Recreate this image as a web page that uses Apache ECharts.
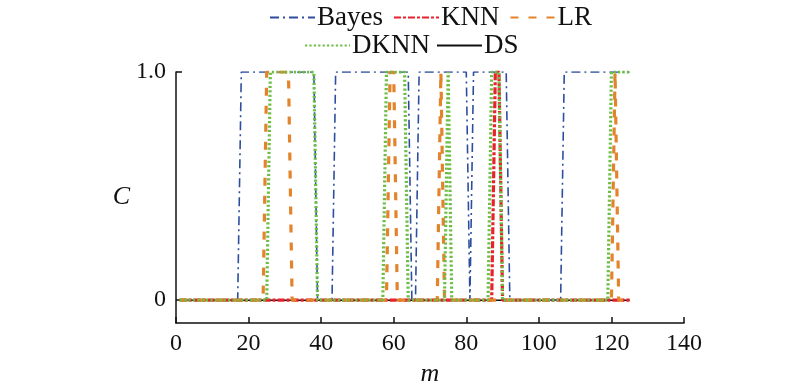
<!DOCTYPE html>
<html><head><meta charset="utf-8">
<script src="https://cdn.jsdelivr.net/npm/echarts@6/dist/echarts.min.js"></script>
<style>html,body{margin:0;padding:0;background:#fff}#c{width:800px;height:387px}</style>
</head><body><div id="c"></div>
<script>
const seriesNames = ['Bayes', 'KNN', 'LR', 'DKNN', 'DS'];
const m = [
  1,2,3,4,5,6,7,8,9,10, 11,12,13,14,15,16,17,18,19,20,
  21,22,23,24,25,26,27,28,29,30, 31,32,33,34,35,36,37,38,39,40,
  41,42,43,44,45,46,47,48,49,50, 51,52,53,54,55,56,57,58,59,60,
  61,62,63,64,65,66,67,68,69,70, 71,72,73,74,75,76,77,78,79,80,
  81,82,83,84,85,86,87,88,89,90, 91,92,93,94,95,96,97,98,99,100,
  101,102,103,104,105,106,107,108,109,110, 111,112,113,114,115,116,117,118,119,120,
  121,122,123,124,125
];
const bayes = [
  0,0,0,0,0,0,0,0,0,0, 0,0,0,0,0,0,0,1,1,1,
  1,1,1,1,1,1,1,1,1,1, 1,1,1,1,1,1,1,1,0,0,
  0,0,0,1,1,1,1,1,1,1, 1,1,1,1,1,1,1,1,1,1,
  1,1,1,1,0,0,1,1,1,1, 1,1,1,1,1,1,1,1,1,1,
  0,1,1,1,1,1,1,1,1,1, 1,0,0,0,0,0,0,0,0,0,
  0,0,0,0,0,0,1,1,1,1, 1,1,1,1,1,1,1,1,1,1,
  1,1,1,1,1
];
const knn = [
  0,0,0,0,0,0,0,0,0,0, 0,0,0,0,0,0,0,0,0,0,
  0,0,0,0,0,0,0,0,0,0, 0,0,0,0,0,0,0,0,0,0,
  0,0,0,0,0,0,0,0,0,0, 0,0,0,0,0,0,0,0,0,0,
  0,0,0,0,0,0,0,0,0,0, 0,0,0,0,0,0,0,0,0,0,
  0,0,0,0,0,0,0,1,1,0, 0,0,0,0,0,0,0,0,0,0,
  0,0,0,0,0,0,0,0,0,0, 0,0,0,0,0,0,0,0,0,0,
  0,0,0,0,0
];
const lr = [
  0,0,0,0,0,0,0,0,0,0, 0,0,0,0,0,0,0,0,0,0,
  0,0,0,0,1,1,1,1,1,1, 1,0,0,0,0,0,0,0,0,0,
  0,0,0,0,0,0,0,0,0,0, 0,0,0,0,0,0,0,0,1,1,
  0,0,0,0,0,0,0,0,0,0, 0,0,1,0,0,0,0,0,0,0,
  0,0,0,0,0,0,0,0,0,0, 0,0,0,0,0,0,0,0,0,0,
  0,0,0,0,0,0,0,0,0,0, 0,0,0,0,0,0,0,0,0,0,
  1,0,0,0,0
];
const dknn = [
  0,0,0,0,0,0,0,0,0,0, 0,0,0,0,0,0,0,0,0,0,
  0,0,0,0,0,1,1,1,1,1, 1,1,1,1,1,1,1,1,0,0,
  0,0,0,0,0,0,0,0,0,0, 0,0,0,0,0,0,0,1,1,1,
  1,1,1,0,0,0,0,0,0,0, 0,0,0,0,1,0,0,0,0,0,
  0,0,0,0,0,0,1,1,1,0, 0,0,0,0,0,0,0,0,0,0,
  0,0,0,0,0,0,0,0,0,0, 0,0,0,0,0,0,0,0,0,1,
  1,1,1,1,1
];
const ds = [
  0,0,0,0,0,0,0,0,0,0, 0,0,0,0,0,0,0,0,0,0,
  0,0,0,0,0,0,0,0,0,0, 0,0,0,0,0,0,0,0,0,0,
  0,0,0,0,0,0,0,0,0,0, 0,0,0,0,0,0,0,0,0,0,
  0,0,0,0,0,0,0,0,0,0, 0,0,0,0,0,0,0,0,0,0,
  0,0,0,0,0,0,0,0,0,0, 0,0,0,0,0,0,0,0,0,0,
  0,0,0,0,0,0,0,0,0,0, 0,0,0,0,0,0,0,0,0,0,
  0,0,0,0,0
];
const xTicks = [0, 20, 40, 60, 80, 100, 120, 140];
const yTicks = [0, 1];

const pair = arr => m.map((x, i) => [x, arr[i]]);
const font = "'Liberation Serif', 'Times New Roman', serif";
const styles = {
  Bayes: {color: '#2D4E9E', width: 1.6, type: [9, 4, 2, 4], z: 3},
  KNN:   {color: '#E8212B', width: 3.2, type: [7, 2, 3, 2], z: 4},
  LR:    {color: '#E3832B', width: 3.2, type: [8, 10], z: 5},
  DKNN:  {color: '#6DBE45', width: 3.2, type: [2.2, 2.2], z: 6},
  DS:    {color: '#111111', width: 1.6, type: 'solid', z: 2}
};
const dataMap = {Bayes: bayes, KNN: knn, LR: lr, DKNN: dknn, DS: ds};

const legendCommon = {
  itemWidth: 45, itemHeight: 14,
  itemStyle: {opacity: 0, borderWidth: 0},
  textStyle: {fontFamily: font, fontSize: 27, color: '#111', padding: [0, 0, 0, -3]}
};
const chart = echarts.init(document.getElementById('c'), null, {renderer: 'canvas'});
chart.setOption({
  backgroundColor: '#fff',
  animation: false,
  textStyle: {fontFamily: font, color: '#111'},
  legend: [
    Object.assign({data: ['Bayes', 'KNN', 'LR'], left: 264, top: -1, itemGap: 10}, legendCommon),
    Object.assign({data: ['DKNN', 'DS'], left: 299, top: 27, itemGap: 6}, legendCommon)
  ],
  grid: {left: 176, right: 116, top: 72, bottom: 64, containLabel: false, outerBoundsMode: 'none'},
  xAxis: {
    type: 'value', min: 0, max: 140, interval: 20,
    name: 'm', nameLocation: 'middle', nameGap: 34,
    nameTextStyle: {fontFamily: font, fontSize: 26, fontStyle: 'italic', color: '#111'},
    axisLine: {onZero: false, lineStyle: {color: '#111', width: 1.5}},
    axisTick: {inside: true, length: 6, lineStyle: {color: '#111', width: 1.5}, customValues: xTicks},
    axisLabel: {fontFamily: font, fontSize: 24, color: '#111', margin: 9, customValues: xTicks},
    splitLine: {show: false}
  },
  yAxis: {
    type: 'value', min: -0.1, max: 1, interval: 0.1,
    name: 'C', nameLocation: 'middle', nameGap: 42, nameRotate: 0,
    nameTextStyle: {fontFamily: font, fontSize: 26, fontStyle: 'italic', color: '#111'},
    axisLine: {show: true, lineStyle: {color: '#111', width: 1.5}},
    axisTick: {show: true, inside: true, length: 6, lineStyle: {color: '#111', width: 1.5}, customValues: yTicks},
    axisLabel: {fontFamily: font, fontSize: 24, color: '#111', margin: 10, customValues: yTicks,
      formatter: v => (Math.abs(v - 1) < 1e-9 ? '1.0' : (Math.abs(v) < 1e-9 ? '0' : ''))},
    splitLine: {show: false}
  },
  series: seriesNames.map(n => ({
    name: n, type: 'line', data: pair(dataMap[n]),
    symbol: 'none', showSymbol: false, z: styles[n].z,
    color: styles[n].color,
    lineStyle: {color: styles[n].color, width: styles[n].width, type: styles[n].type}
  }))
});
</script></body></html>
